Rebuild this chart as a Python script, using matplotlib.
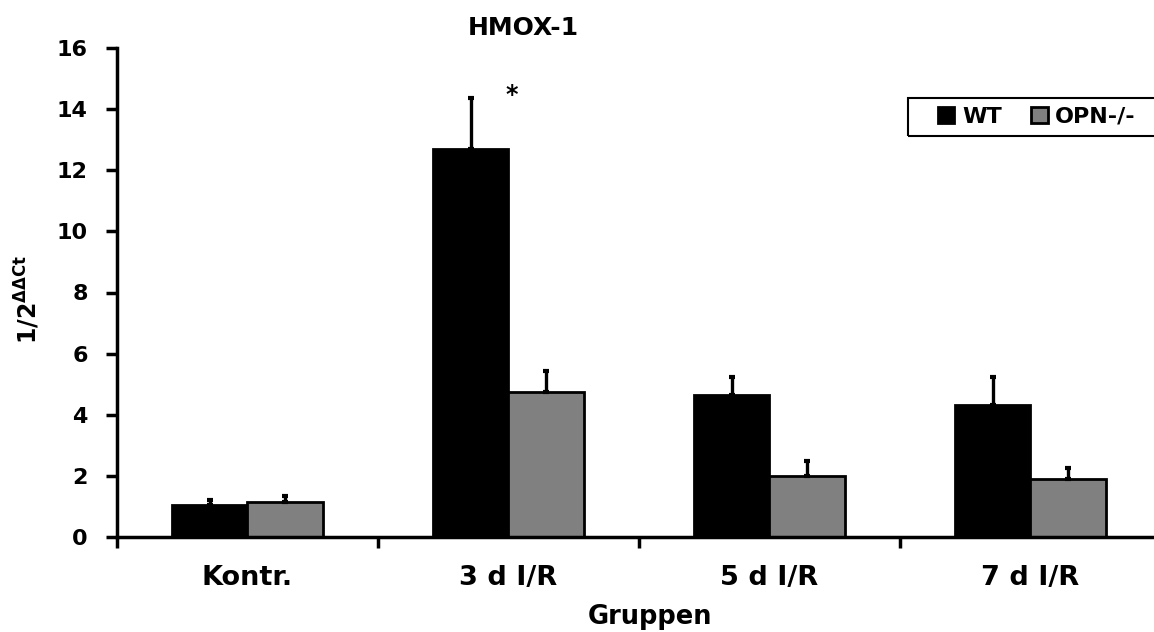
import matplotlib
matplotlib.use("Agg")
import matplotlib.pyplot as plt
from matplotlib.patches import Rectangle
import numpy as np

categories = ["Kontr.", "3 d I/R", "5 d I/R", "7 d I/R"]
wt_values = [1.05, 12.7, 4.65, 4.32]
wt_errors = [0.17, 1.65, 0.57, 0.93]
opn_values = [1.13, 4.74, 1.98, 1.90]
opn_errors = [0.2, 0.68, 0.5, 0.36]
series_names = ["WT", "OPN-/-"]
yticks = [0, 2, 4, 6, 8, 10, 12, 14, 16]

plt.rcParams['font.family'] = ['DejaVu Sans']
plt.rcParams['font.weight'] = 'bold'
plt.rcParams['mathtext.fontset'] = 'custom'
plt.rcParams['mathtext.rm'] = 'DejaVu Sans:bold'
plt.rcParams['mathtext.bf'] = 'DejaVu Sans:bold'

W, H = 1154, 632
fig = plt.figure(figsize=(W / 100, H / 100), dpi=100)
left_px, bottom_px, top_px = 117, 537, 48
ax = fig.add_axes([left_px / W, 1 - bottom_px / H, 1 - left_px / W, (bottom_px - top_px) / H])

x = np.arange(len(categories))
bw = 0.288
ax.bar(x - bw / 2, wt_values, bw, color='black', edgecolor='black', linewidth=2, zorder=2, label=series_names[0])
ax.bar(x + bw / 2, opn_values, bw, color='#808080', edgecolor='black', linewidth=2, zorder=2, label=series_names[1])
ax.errorbar(x - bw / 2, wt_values, yerr=[np.zeros(4), wt_errors], fmt='none', ecolor='black',
            elinewidth=2.4, capsize=2.5, capthick=3, zorder=3)
ax.errorbar(x + bw / 2, opn_values, yerr=[np.zeros(4), opn_errors], fmt='none', ecolor='black',
            elinewidth=2.4, capsize=2.5, capthick=3, zorder=3)

ax.set_ylim(0, 16)
ax.set_xlim(-0.5, 3.5 - 7 / 261)
ax.set_yticks(yticks)
ax.set_yticklabels([str(v) for v in yticks], fontsize=16, fontweight='bold')
ax.set_xticks([-0.5, 0.5, 1.5, 2.5])
ax.set_xticklabels([])
ax.set_xticks(x, minor=True)
ax.set_xticklabels(categories, minor=True, fontsize=19.5, fontweight='bold')
ax.tick_params(axis='x', which='minor', length=0, pad=20)
ax.tick_params(axis='both', which='major', direction='out', length=8, width=2.5, color='black')
ax.tick_params(axis='y', pad=13)
for s in ['top', 'right']:
    ax.spines[s].set_visible(False)
for s in ['left', 'bottom']:
    ax.spines[s].set_linewidth(2.5)
    ax.spines[s].set_color('black')

ax.text(1.013, 14.45, "*", fontsize=17, fontweight='bold', ha='center', va='center')

fig.text(523 / W, 1 - 28 / H, "HMOX-1", fontsize=18, fontweight='bold', ha='center', va='center')
fig.text(650 / W, 1 - 617 / H, "Gruppen", fontsize=18.5, fontweight='bold', ha='center', va='center')
fig.text(28 / W, 1 - 300 / H, r'$1/2^{\mathrm{\Delta\Delta Ct}}$', fontsize=17, rotation=90,
         ha='center', va='center')

# legend frame
fig.patches.append(Rectangle((908 / W, 1 - 136 / H), (1170 - 908) / W, 38 / H, transform=fig.transFigure,
                             fill=False, edgecolor='black', linewidth=1.5, figure=fig))
leg = ax.legend(loc='center left', bbox_to_anchor=(930 / W, 1 - 117 / H), bbox_transform=fig.transFigure,
                ncol=2, frameon=False, fontsize=16,
                handlelength=0.75, handleheight=0.75, handletextpad=0.35, columnspacing=1.3,
                borderpad=0.35, borderaxespad=0)
for t in leg.get_texts():
    t.set_fontweight('bold')

fig.savefig("out.png", dpi=100)
